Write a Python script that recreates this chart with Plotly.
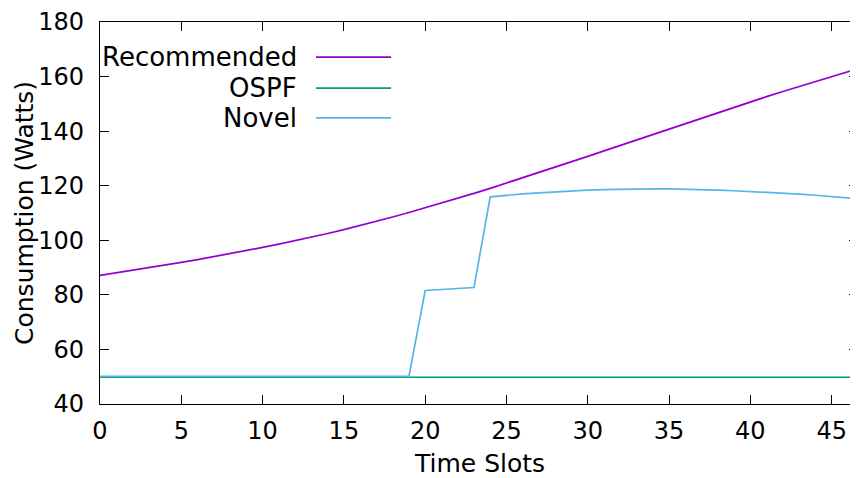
import plotly.graph_objects as go

time_slots = list(range(0, 48))

recommended = [87.10, 88.01, 88.94, 89.89, 90.87, 91.88, 92.92, 93.99, 95.09, 96.22,
               97.38, 98.58, 99.82, 101.12, 102.48, 103.90, 105.38, 106.92, 108.52, 110.17,
               111.87, 113.61, 115.39, 117.20, 119.04, 120.95, 122.88, 124.83, 126.80, 128.78,
               130.77, 132.77, 134.78, 136.80, 138.82, 140.84, 142.85, 144.85, 146.84, 148.80,
               150.74, 152.65, 154.53, 156.38, 158.20, 160.00, 161.78, 163.54]

ospf = [49.8] * 48

novel = [50.1, 50.1, 50.1, 50.1, 50.1, 50.1, 50.1, 50.1, 50.1, 50.1,
         50.1, 50.1, 50.1, 50.1, 50.1, 50.1, 50.1, 50.1, 50.1, 50.1,
         81.6, 81.95, 82.3, 82.7, 115.9, 116.5, 117.0, 117.4, 117.8, 118.1,
         118.35, 118.55, 118.7, 118.8, 118.85, 118.85, 118.75, 118.6, 118.4, 118.15,
         117.9, 117.6, 117.25, 116.9, 116.5, 116.05, 115.55, 115.05]

series_names = ["Recommended", "OSPF", "Novel"]
series_colors = ["#9400d3", "#009e73", "#56b4e9"]
series_values = [recommended, ospf, novel]

x_ticks = [0, 5, 10, 15, 20, 25, 30, 35, 40, 45]
y_ticks = [40, 60, 80, 100, 120, 140, 160, 180]

FONT = "DejaVu Sans"
FS = 25
fig = go.Figure()
for name, color, vals in zip(series_names, series_colors, series_values):
    fig.add_trace(go.Scatter(x=time_slots, y=vals, mode="lines", name=name,
                             line=dict(color=color, width=1.7), showlegend=False))

# gnuplot-style key: right-aligned text, line sample to the right
key_y = [0.908, 0.827, 0.749]
for name, color, ky in zip(series_names, series_colors, key_y):
    fig.add_annotation(x=0.262, y=ky, xref="paper", yref="paper", text=name,
                       showarrow=False, xanchor="right", yanchor="middle",
                       font=dict(family=FONT, size=26, color="black"))
    fig.add_shape(type="line", xref="paper", yref="paper",
                  x0=0.285, x1=0.384, y0=ky, y1=ky,
                  line=dict(color=color, width=1.7))

# axis titles
fig.add_annotation(x=0.5, y=-0.1545, xref="paper", yref="paper", text="Time Slots",
                   showarrow=False, xanchor="center", yanchor="middle",
                   font=dict(family=FONT, size=FS, color="black"))
fig.add_annotation(x=-0.1003, y=0.5, xref="paper", yref="paper", text="Consumption (Watts)",
                   showarrow=False, xanchor="center", yanchor="middle", textangle=-90,
                   font=dict(family=FONT, size=FS, color="black"))

axis_common = dict(showline=True, linecolor="black", linewidth=1.4, mirror="ticks",
                   ticks="inside", ticklen=9, tickwidth=1.2, tickcolor="black",
                   showgrid=False, zeroline=False, automargin=False,
                   tickfont=dict(family=FONT, size=24, color="black"))

fig.update_xaxes(range=[0, 46.62], tickvals=x_ticks, ticklabelstandoff=5, **axis_common)
fig.update_yaxes(range=[40, 180], tickvals=y_ticks, ticklabelstandoff=10, **axis_common)

# page body adds ~8px offset; size figure to fit the visible window
fig.update_layout(width=850, height=470, margin=dict(l=92, r=0, t=14, b=74),
                  plot_bgcolor="white", paper_bgcolor="white",
                  font=dict(family=FONT, color="black"))

fig.write_html("out.html")
